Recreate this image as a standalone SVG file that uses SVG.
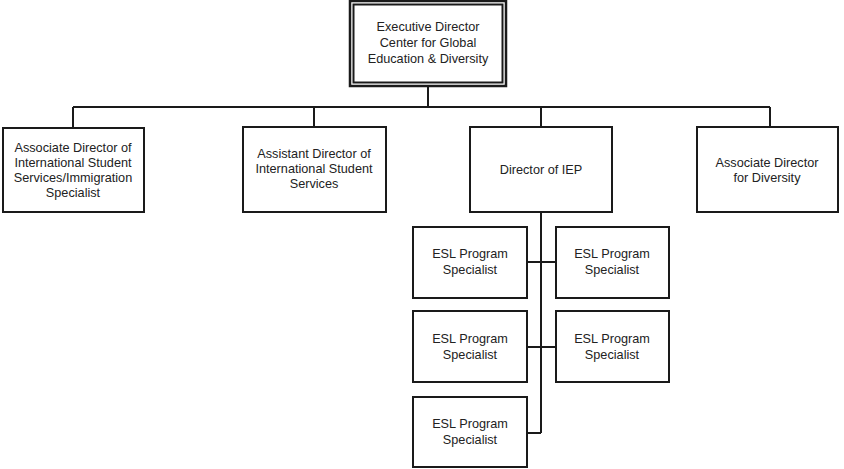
<svg xmlns="http://www.w3.org/2000/svg" width="844" height="469" viewBox="0 0 844 469">
<style>
.box{fill:#fff;stroke:#1a1a1a;stroke-width:2}
.ln{fill:none;stroke:#1a1a1a;stroke-width:2}
text{font-family:"Liberation Sans",Arial,sans-serif;font-size:12.7px;fill:#222;text-anchor:middle}
</style>
<rect width="844" height="469" fill="#fff"/>
<g id="connectors">
<path class="ln" d="M428 86V107M73 107H770M73 107V128M314 107V127M541 107V127M770 107V127"/>
<path class="ln" d="M541 212V433M527 262H556M527 347H556M527 433H541"/>
</g>
<g id="exec">
<rect x="350" y="1" width="156" height="85" fill="#fff" stroke="#1a1a1a" stroke-width="2.5"/>
<rect x="353.5" y="4.5" width="149" height="78" fill="none" stroke="#1a1a1a" stroke-width="2"/>
<text x="428" y="31">Executive Director</text>
<text x="428" y="47">Center for Global</text>
<text x="428" y="63">Education &amp; Diversity</text>
</g>
<g id="assocISS">
<rect class="box" x="3" y="128" width="141" height="84"/>
<text x="73" y="152">Associate Director of</text>
<text x="73" y="167">International Student</text>
<text x="73" y="182">Services/Immigration</text>
<text x="73" y="197">Specialist</text>
</g>
<g id="asstISS">
<rect class="box" x="243" y="127" width="143" height="85"/>
<text x="314" y="158">Assistant Director of</text>
<text x="314" y="173">International Student</text>
<text x="314" y="188">Services</text>
</g>
<g id="iep">
<rect class="box" x="470" y="127" width="142" height="85"/>
<text x="541" y="174">Director of IEP</text>
</g>
<g id="diversity">
<rect class="box" x="697" y="127" width="141" height="85"/>
<text x="767" y="167">Associate Director</text>
<text x="767" y="182">for Diversity</text>
</g>
<g id="esl1">
<rect class="box" x="413" y="227" width="114" height="71"/>
<text x="470" y="258">ESL Program</text>
<text x="470" y="274">Specialist</text>
</g>
<g id="esl2">
<rect class="box" x="556" y="227" width="113" height="71"/>
<text x="612" y="258">ESL Program</text>
<text x="612" y="274">Specialist</text>
</g>
<g id="esl3">
<rect class="box" x="413" y="311" width="114" height="71"/>
<text x="470" y="343">ESL Program</text>
<text x="470" y="359">Specialist</text>
</g>
<g id="esl4">
<rect class="box" x="556" y="311" width="113" height="71"/>
<text x="612" y="343">ESL Program</text>
<text x="612" y="359">Specialist</text>
</g>
<g id="esl5">
<rect class="box" x="413" y="397" width="114" height="70"/>
<text x="470" y="428">ESL Program</text>
<text x="470" y="444">Specialist</text>
</g>
</svg>
